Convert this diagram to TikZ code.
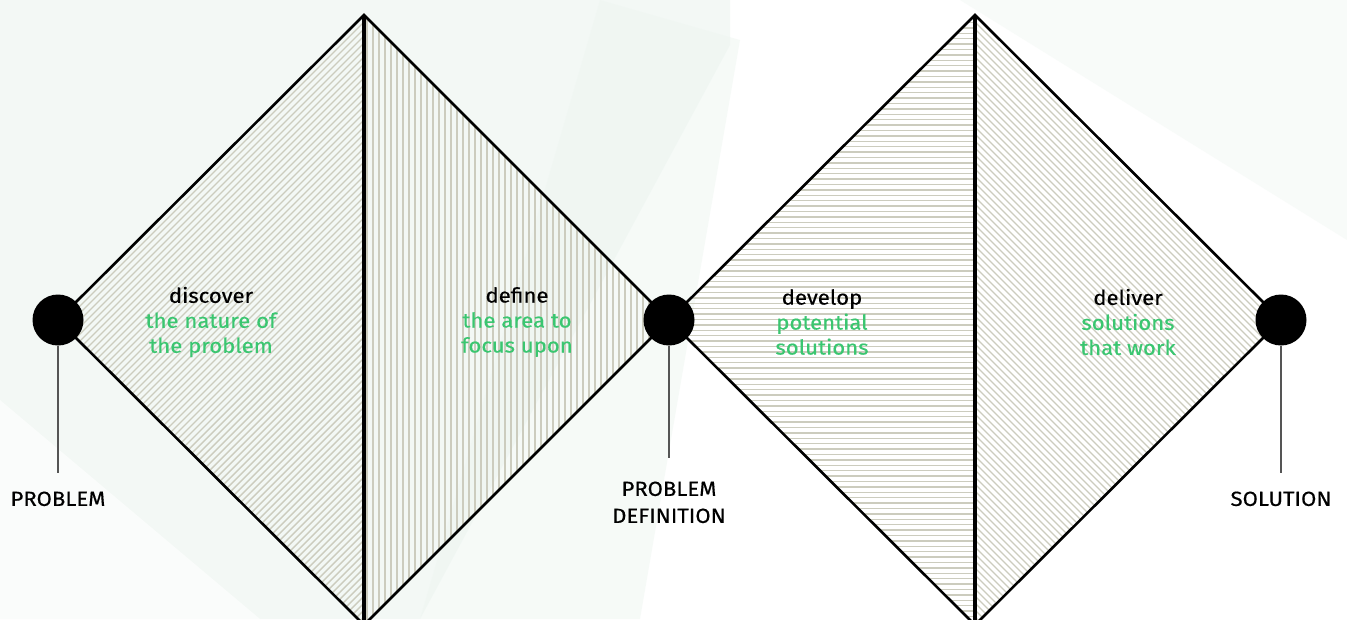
\documentclass[tikz,border=0pt]{standalone}
\usepackage{fontspec}
\setmainfont{Fira Sans}[FakeStretch=1.08,FakeBold=0.4]
\definecolor{mint}{RGB}{238,246,241}
\definecolor{hatchc}{RGB}{204,204,190}
\definecolor{phase}{RGB}{58,198,112}
\definecolor{stemc}{RGB}{85,85,85}
\begin{document}
\begin{tikzpicture}[x=1pt,y=-1pt,
  hatch/.style={draw=hatchc,line width=1.4pt},
  edge/.style={draw=black,line width=2.6pt,line join=miter},
  spine/.style={draw=black,line width=3.2pt},
  milestone/.style={circle,fill=black,minimum size=51pt,inner sep=0pt},
  stem/.style={draw=stemc,line width=1.4pt},
  phasetext/.style={align=center,font=\fontsize{20.5}{25}\selectfont},
  endlabel/.style={align=center,font=\fontsize{20.5}{27}\selectfont}]
\useasboundingbox (0,0) rectangle (1347,619);
% soft background
\fill[white] (0,0) rectangle (1347,619);
\fill[mint,opacity=0.7] (0,0) -- (730,0) -- (730,45) -- (420,619) -- (0,619) -- cycle;
\fill[white,opacity=0.6] (0,619) -- (0,400) -- (260,619) -- cycle;
\fill[mint,opacity=0.5] (600,0) -- (740,40) -- (640,619) -- (420,619) -- cycle;
\fill[mint,opacity=0.4] (960,0) -- (1347,0) -- (1347,240) -- cycle;
% corner points of the two diamonds
\coordinate (aT) at (364,15);
\coordinate (aB) at (364,625);
\coordinate (bT) at (975,15);
\coordinate (bB) at (975,625);
\coordinate (pL) at (58,320);
\coordinate (pM) at (669,320);
\coordinate (pR) at (1281,320);
% discover: rising diagonals
\begin{scope}
  \clip (pL) -- (aT) -- (aB) -- cycle;
  \foreach \x in {-260,-253,...,380} \draw[hatch] (\x,625) -- ++(620,-620);
\end{scope}
% define: vertical lines
\begin{scope}
  \clip (aT) -- (pM) -- (aB) -- cycle;
  \foreach \x in {367,373,...,670} \draw[hatch] (\x,0) -- (\x,630);
\end{scope}
% develop: horizontal lines
\begin{scope}
  \clip (pM) -- (bT) -- (bB) -- cycle;
  \foreach \y in {17,22.4,...,630} \draw[hatch] (660,\y) -- (980,\y);
\end{scope}
% deliver: falling diagonals
\begin{scope}
  \clip (bT) -- (pR) -- (bB) -- cycle;
  \foreach \x in {330,337,...,1300} \draw[hatch] (\x,0) -- ++(640,640);
\end{scope}
% outlines
\draw[edge] (pL) -- (aT) -- (pM) -- (aB) -- cycle;
\draw[edge] (pM) -- (bT) -- (pR) -- (bB) -- cycle;
\draw[spine] (aT) -- (aB);
\draw[spine] (bT) -- (bB);
% milestones
\node[milestone] (m0) at (pL) {};
\node[milestone] (m1) at (pM) {};
\node[milestone] (m2) at (pR) {};
\coordinate (s0) at (58,473);
\coordinate (s1) at (669,458);
\coordinate (s2) at (1281,473);
\draw[stem] (m0.south) -- (s0);
\draw[stem] (m1.south) -- (s1);
\draw[stem] (m2.south) -- (s2);
\node[endlabel,anchor=north] (l0) at (58,488) {PROBLEM};
\node[endlabel,anchor=north] (l1) at (669,478) {PROBLEM\\DEFINITION};
\node[endlabel,anchor=north] (l2) at (1281,488) {SOLUTION};
% phase texts
\node[phasetext] (t0) at (211,322) {discover\\\textcolor{phase}{the nature of}\\\textcolor{phase}{the problem}};
\node[phasetext] (t1) at (517,322) {define\\\textcolor{phase}{the area to}\\\textcolor{phase}{focus upon}};
\node[phasetext] (t2) at (822,322) {develop\\\textcolor{phase}{potential}\\\textcolor{phase}{solutions}};
\node[phasetext] (t3) at (1128,322) {deliver\\\textcolor{phase}{solutions}\\\textcolor{phase}{that work}};
\end{tikzpicture}
\end{document}
